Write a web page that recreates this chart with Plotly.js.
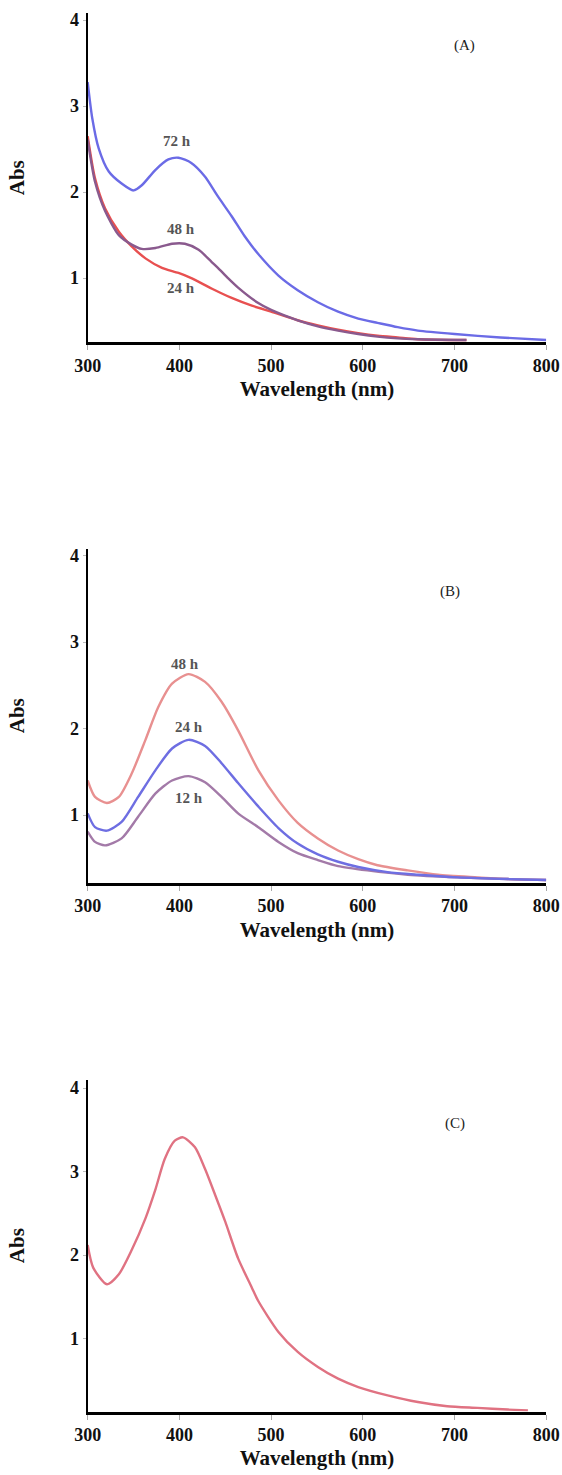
<!DOCTYPE html>
<html>
<head>
<meta charset="utf-8">
<script src="https://cdn.plot.ly/plotly-3.0.1.min.js"></script>
<style>html,body{margin:0;padding:0;background:#fff;}#chart{width:562px;height:1475px;}</style>
</head>
<body>
<div id="chart"></div>
<script>
// Panel A
const wlA72 = [300,305,312,323,337,350,359,374,388,399,413,428,442,457,471,486,508,529,551,573,595,616,638,660,700,750,800];
const absA72 = [3.28,2.86,2.51,2.24,2.10,2.02,2.08,2.26,2.38,2.40,2.34,2.18,1.95,1.72,1.49,1.28,1.03,0.86,0.72,0.61,0.53,0.48,0.43,0.39,0.35,0.31,0.28];
const wlA48 = [300,308,319,334,348,359,374,392,406,421,435,442,453,464,486,500,529,551,573,595,616,638,660,713];
const absA48 = [2.61,2.12,1.78,1.50,1.39,1.34,1.35,1.40,1.40,1.33,1.19,1.12,1.00,0.89,0.71,0.63,0.51,0.44,0.39,0.35,0.32,0.30,0.29,0.28];
const wlA24 = [300,308,319,334,348,363,381,399,413,435,457,479,500,529,551,573,595,616,638,660,713];
const absA24 = [2.65,2.16,1.81,1.54,1.37,1.23,1.12,1.06,1.00,0.88,0.77,0.68,0.61,0.51,0.45,0.40,0.36,0.33,0.31,0.29,0.28];
// Panel B
const wlB48 = [300,308,321,334,348,363,377,392,410,428,446,464,486,508,529,551,573,595,616,649,682,725,758,800];
const absB48 = [1.40,1.21,1.14,1.21,1.48,1.87,2.25,2.52,2.63,2.54,2.31,1.98,1.52,1.17,0.91,0.73,0.59,0.49,0.42,0.36,0.31,0.28,0.26,0.25];
const wlB24 = [300,308,321,337,355,374,392,410,428,446,464,486,508,529,551,573,595,627,660,703,758,800];
const absB24 = [1.02,0.86,0.82,0.92,1.21,1.52,1.77,1.87,1.80,1.60,1.37,1.10,0.85,0.67,0.545,0.46,0.40,0.34,0.31,0.28,0.26,0.25];
const wlB12 = [300,308,319,337,355,374,392,410,428,446,464,486,508,529,551,573,605,649,703,758,800];
const absB12 = [0.81,0.69,0.65,0.73,0.98,1.25,1.40,1.45,1.38,1.21,1.02,0.86,0.69,0.56,0.48,0.41,0.36,0.31,0.28,0.26,0.25];
// Panel C
const wlC = [300,306,321,334,348,363,374,384,395,404,417,428,439,450,464,479,486,508,529,551,573,595,627,660,692,725,758,780];
const absC = [2.12,1.85,1.65,1.77,2.06,2.44,2.79,3.15,3.37,3.41,3.29,3.03,2.72,2.40,1.96,1.61,1.45,1.08,0.84,0.66,0.52,0.42,0.32,0.24,0.19,0.17,0.15,0.14];

const tickVals = [300,400,500,600,700,800];
const yTickVals = [1,2,3,4];
const panelTags = ['(A)','(B)','(C)'];
const labelsA = ['72 h','48 h','24 h'];
const labelsB = ['48 h','24 h','12 h'];

const serif = 'Liberation Serif, Times New Roman, serif';

function tr(x, y, color, xa, ya){
  return {x:x, y:y, type:'scatter', mode:'lines', xaxis:xa, yaxis:ya,
    line:{color:color, width:2.4, shape:'spline', smoothing:0.7}, hoverinfo:'skip', showlegend:false};
}

const data = [
  tr(wlA24, absA24, '#e85050', 'x', 'y'),
  tr(wlA48, absA48, '#8a5a8e', 'x', 'y'),
  tr(wlA72, absA72, '#6b6be6', 'x', 'y'),
  tr(wlB48, absB48, '#e89090', 'x2', 'y2'),
  tr(wlB12, absB12, '#a37aa8', 'x2', 'y2'),
  tr(wlB24, absB24, '#6e6ee2', 'x2', 'y2'),
  tr(wlC, absC, '#e07282', 'x3', 'y3')
];

function xax(anchor){
  return {range:[300,800], domain:[0.156,0.972], anchor:anchor, tickvals:tickVals,
    showgrid:false, zeroline:false, showline:true, linecolor:'#000', linewidth:3,
    ticks:'outside', ticklen:5, tickcolor:'#aaa', tickwidth:1, ticklabeloverflow:'allow',
    tickfont:{family:serif, size:18, color:'#111', weight:'bold'},
    title:{text:'Wavelength (nm)', font:{family:serif, size:21, color:'#111', weight:'bold'}, standoff:7},
    fixedrange:true};
}
function yax(anchor, range, domain){
  return {range:range, domain:domain, anchor:anchor, tickvals:yTickVals,
    showgrid:false, zeroline:false, showline:true, linecolor:'#000', linewidth:2,
    ticks:'outside', ticklen:3, tickcolor:'#bbb', tickwidth:1,
    tickfont:{family:serif, size:18, color:'#111', weight:'bold'},
    title:{text:'Abs', font:{family:serif, size:21, color:'#111', weight:'bold'}, standoff:40},
    fixedrange:true};
}

const ann = [];
function tag(text, x, y, xr, yr){
  ann.push({text:text, x:x, y:y, xref:xr, yref:yr, showarrow:false,
    font:{family:serif, size:15, color:'#222'}});
}
function lab(text, x, y, xr, yr){
  ann.push({text:'<b>'+text+'</b>', x:x, y:y, xref:xr, yref:yr, showarrow:false,
    font:{family:serif, size:15, color:'#555'}});
}
tag(panelTags[0], 711, 3.70, 'x', 'y');
tag(panelTags[1], 695, 3.58, 'x2', 'y2');
tag(panelTags[2], 700, 3.57, 'x3', 'y3');
lab(labelsA[0], 397, 2.60, 'x', 'y');
lab(labelsA[1], 402, 1.57, 'x', 'y');
lab(labelsA[2], 402, 0.88, 'x', 'y');
lab(labelsB[0], 406, 2.75, 'x2', 'y2');
lab(labelsB[1], 410, 2.02, 'x2', 'y2');
lab(labelsB[2], 411, 1.20, 'x2', 'y2');

const layout = {
  width:562, height:1475, margin:{l:0, r:0, t:0, b:0},
  paper_bgcolor:'#fff', plot_bgcolor:'#fff', showlegend:false,
  xaxis: xax('y'), yaxis: yax('x', [0.255, 4.08], [0.768, 0.991]),
  xaxis2: xax('y2'), yaxis2: yax('x2', [0.217, 4.08], [0.4015, 0.628]),
  xaxis3: xax('y3'), yaxis3: yax('x3', [0.126, 4.10], [0.043, 0.268]),
  annotations: ann
};

Plotly.newPlot('chart', data, layout, {displayModeBar:false, staticPlot:true});
</script>
</body>
</html>
